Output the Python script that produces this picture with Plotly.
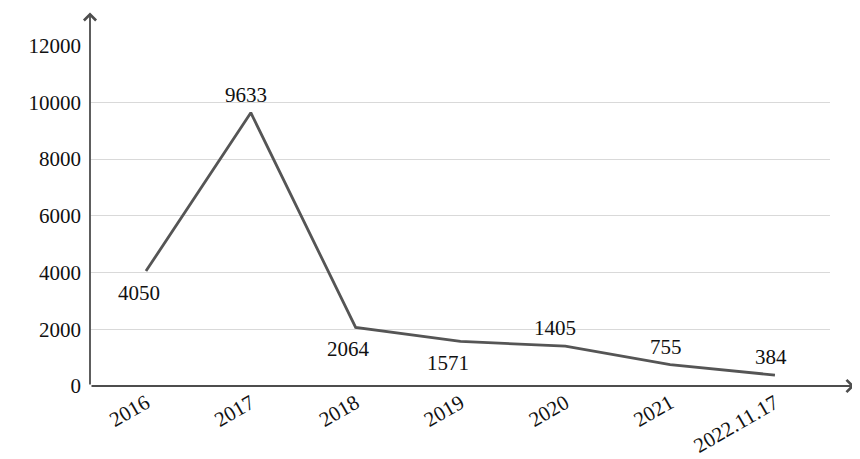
import plotly.graph_objects as go

categories = ["2016", "2017", "2018", "2019", "2020", "2021", "2022.11.17"]
values = [4050, 9633, 2064, 1571, 1405, 755, 384]
label_pos = ["below", "above", "below", "below", "above", "above", "above"]
label_xshift = [-7, -5, -7, -12, -10, -4, -4]
y_ticks = [0, 2000, 4000, 6000, 8000, 10000, 12000]

FONT = "Liberation Serif, Times New Roman, serif"
INK = "#4d4d4d"

fig = go.Figure()
fig.add_trace(go.Scatter(
    x=categories, y=values, mode="lines",
    line=dict(color="#555555", width=2.8),
    hoverinfo="skip", showlegend=False,
))

for i, (v, p, dx) in enumerate(zip(values, label_pos, label_xshift)):
    fig.add_annotation(
        x=i, y=v, text=str(v), showarrow=False,
        xshift=dx, yshift=(-22 if p == "below" else 18),
        font=dict(family=FONT, size=21, color="#111111"),
    )

# axis arrows
fig.add_annotation(xref="x domain", yref="y domain", x=1.033, y=0, ax=0, ay=0,
                   axref="x domain", ayref="y domain", showarrow=True,
                   arrowhead=4, arrowsize=1.3, arrowwidth=1.8, arrowcolor=INK, text="")
fig.add_annotation(xref="x domain", yref="y domain", x=0, y=1.095, ax=0, ay=0,
                   axref="x domain", ayref="y domain", showarrow=True,
                   arrowhead=4, arrowsize=1.3, arrowwidth=1.8, arrowcolor=INK, text="")

# page body has an 8px margin, so the figure is sized/offset to compensate
fig.update_layout(
    width=852, height=451,
    margin=dict(l=82, r=30, t=37, b=73),
    plot_bgcolor="white", paper_bgcolor="white",
    font=dict(family=FONT, size=21, color="#111111"),
    xaxis=dict(
        type="category", range=[-0.534, 6.525], automargin=False,
        showgrid=False, zeroline=False, showline=False,
        ticks="", tickangle=-30, tickfont=dict(size=21),
    ),
    yaxis=dict(
        range=[0, 12020], tickvals=y_ticks, automargin=False,
        tickformat="d", ticklabelstandoff=8,
        showgrid=True, gridcolor="#d9d9d9", gridwidth=1.2,
        zeroline=False, showline=False, ticks="",
        tickfont=dict(size=21),
    ),
)

fig.write_html("out.html")
